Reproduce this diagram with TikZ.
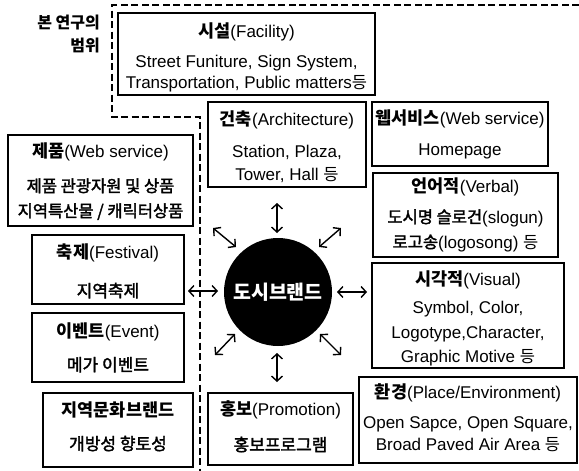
\documentclass[tikz,border=0pt]{standalone}
\usepackage{fontspec}
\setmainfont{Liberation Sans}
\newfontfamily\kr{Noto Sans CJK KR}
\newfontfamily\krm{Noto Sans CJK KR}[FakeBold=2]
\usetikzlibrary{arrows.meta}
\newcommand\KT[1]{{\kr\bfseries\fontsize{17.5}{17.5}\selectfont #1}}
\newcommand\KB[1]{{\krm\fontsize{17}{17}\selectfont #1}}
\newcommand\KS[1]{{\krm\fontsize{16.5}{16.5}\selectfont #1}}
\newcommand\KR[1]{{\kr\fontsize{16.5}{16.5}\selectfont #1}}
\tikzset{
  bx/.style={draw, line width=1.2pt, anchor=north west, inner sep=0pt, outer sep=0pt},
  tl/.style={anchor=base, inner sep=0pt, font=\fontsize{17}{20}\selectfont},
  dbl/.style={{Straight Barb[length=5pt,width=11pt]}-{Straight Barb[length=5pt,width=11pt]}, line width=1.4pt},
  rangeline/.style={line width=1.2pt, dash pattern=on 7pt off 3.5pt}
}
\begin{document}
\begin{tikzpicture}[x=1pt,y=-1pt]
\useasboundingbox (0,0) rectangle (579,471);

% scope of study
\draw[rangeline] (579,5) -- (112,5) -- (112,117) -- (200,117) -- (200,471);
\node[anchor=base east, inner sep=0pt] (scopeA) at (100,28) {{\kr\bfseries\fontsize{16}{16}\selectfont 본 연구의}};
\node[anchor=base east, inner sep=0pt] (scopeB) at (100,52) {{\kr\bfseries\fontsize{16}{16}\selectfont 범위}};

% boxes
\node[bx, minimum width=257pt, minimum height=82pt] (fac) at (118,13) {};
\node[bx, minimum width=158pt, minimum height=85pt] (arch) at (208,102) {};
\node[bx, minimum width=176pt, minimum height=64pt] (web) at (372,102) {};
\node[bx, minimum width=185pt, minimum height=84pt] (verb) at (373,173) {};
\node[bx, minimum width=192pt, minimum height=105pt] (vis) at (372,263) {};
\node[bx, minimum width=218pt, minimum height=86pt] (env) at (359,377) {};
\node[bx, minimum width=145pt, minimum height=72pt] (promo) at (208,393) {};
\node[bx, minimum width=185pt, minimum height=91pt] (prod) at (8,135) {};
\node[bx, minimum width=152pt, minimum height=69pt] (fest) at (32,235) {};
\node[bx, minimum width=152pt, minimum height=69pt] (event) at (32,313) {};
\node[bx, minimum width=150pt, minimum height=74pt] (local) at (43,393) {};

% texts
\node[tl] (facA) at (246.5,37) {\KT{시설}(Facility)};
\node[tl] (facB) at (246.5,67) {Street Funiture, Sign System,};
\node[tl] (facC) at (246.5,88) {Transportation, Public matters\KR{등}};

\node[tl] (archA) at (287,125) {\KT{건축}(Architecture)};
\node[tl] (archB) at (287,157) {Station, Plaza,};
\node[tl] (archC) at (287,180) {Tower, Hall \KR{등}};

\node[tl] (webA) at (460,124) {\KT{웹서비스}(Web service)};
\node[tl] (webB) at (460,155) {Homepage};

\node[tl] (verbA) at (465.5,192) {\KT{언어적}(Verbal)};
\node[tl] (verbB) at (465.5,223) {\KS{도시명 슬로건}(slogun)};
\node[tl] (verbC) at (465.5,248) {\KS{로고송}(logosong) \KR{등}};

\node[tl] (visA) at (468,285) {\KT{시각적}(Visual)};
\node[tl] (visB) at (468,313) {Symbol, Color,};
\node[tl] (visC) at (468,338) {Logotype,Character,};
\node[tl] (visD) at (468,362) {Graphic Motive \KR{등}};

\node[tl] (envA) at (468,398) {\KT{환경}(Place/Environment)};
\node[tl] (envB) at (468,428) {Open Sapce, Open Square,};
\node[tl] (envC) at (468,450) {Broad Paved Air Area \KR{등}};

\node[tl] (promoA) at (280.5,415) {\KT{홍보}(Promotion)};
\node[tl] (promoB) at (280.5,451) {\KB{홍보프로그램}};

\node[tl] (prodA) at (100.5,157) {\KT{제품}(Web service)};
\node[tl] (prodB) at (100.5,192) {\KS{제품 관광자원 및 상품}};
\node[tl] (prodC) at (100.5,217) {\KS{지역특산물 / 캐릭터상품}};

\node[tl] (festA) at (108,258) {\KT{축제}(Festival)};
\node[tl] (festB) at (108,297) {\KB{지역축제}};

\node[tl] (eventA) at (108,337) {\KT{이벤트}(Event)};
\node[tl] (eventB) at (108,371) {\KB{메가 이벤트}};

\node[tl] (localA) at (118,416) {\KT{지역문화브랜드}};
\node[tl] (localB) at (118,450) {\KB{개방성 향토성}};

% central circle
\node[circle, fill=black, minimum size=108pt, inner sep=0pt] (brand) at (278,292) {};
\node[text=white, inner sep=0pt] (brandT) at (278,292) {{\kr\bfseries\fontsize{19.5}{19.5}\selectfont 도시브랜드}};

% arrows
\coordinate (u1) at (277,203); \coordinate (u2) at (277,233);
\coordinate (d1) at (277,353); \coordinate (d2) at (277,382);
\coordinate (l1) at (188,291); \coordinate (l2) at (218,291);
\coordinate (r1) at (337,292); \coordinate (r2) at (367,292);
\coordinate (ul1) at (213,228); \coordinate (ul2) at (236,247);
\coordinate (ur1) at (319,247); \coordinate (ur2) at (341,228);
\coordinate (ll1) at (215,355); \coordinate (ll2) at (235,334);
\coordinate (lr1) at (320,334); \coordinate (lr2) at (341,355);
\draw[dbl] (u1) -- (u2);
\draw[dbl] (d1) -- (d2);
\draw[dbl] (l1) -- (l2);
\draw[dbl] (r1) -- (r2);
\draw[dbl] (ul1) -- (ul2);
\draw[dbl] (ur1) -- (ur2);
\draw[dbl] (ll1) -- (ll2);
\draw[dbl] (lr1) -- (lr2);
\end{tikzpicture}
\end{document}
